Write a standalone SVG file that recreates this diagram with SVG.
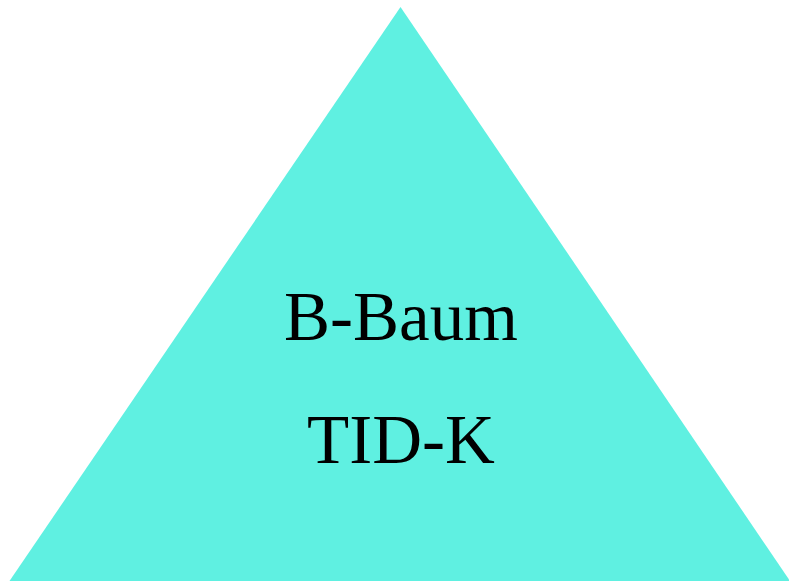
<svg xmlns="http://www.w3.org/2000/svg" width="789" height="581" viewBox="0 0 789 581">
<style>
.lbl{font-family:"Liberation Serif","Times New Roman",serif;font-size:69px;fill:#000;text-anchor:middle}
</style>
<rect width="789" height="581" fill="#fff"/>
<g id="node-triangle">
<polygon points="400.5,7 9.5,581 790,581" fill="#5ff0e1"/>
<text class="lbl" x="401" y="340">B-Baum</text>
<text class="lbl" x="401" y="463">TID-K</text>
</g>
<g id="connectors"></g>
</svg>
